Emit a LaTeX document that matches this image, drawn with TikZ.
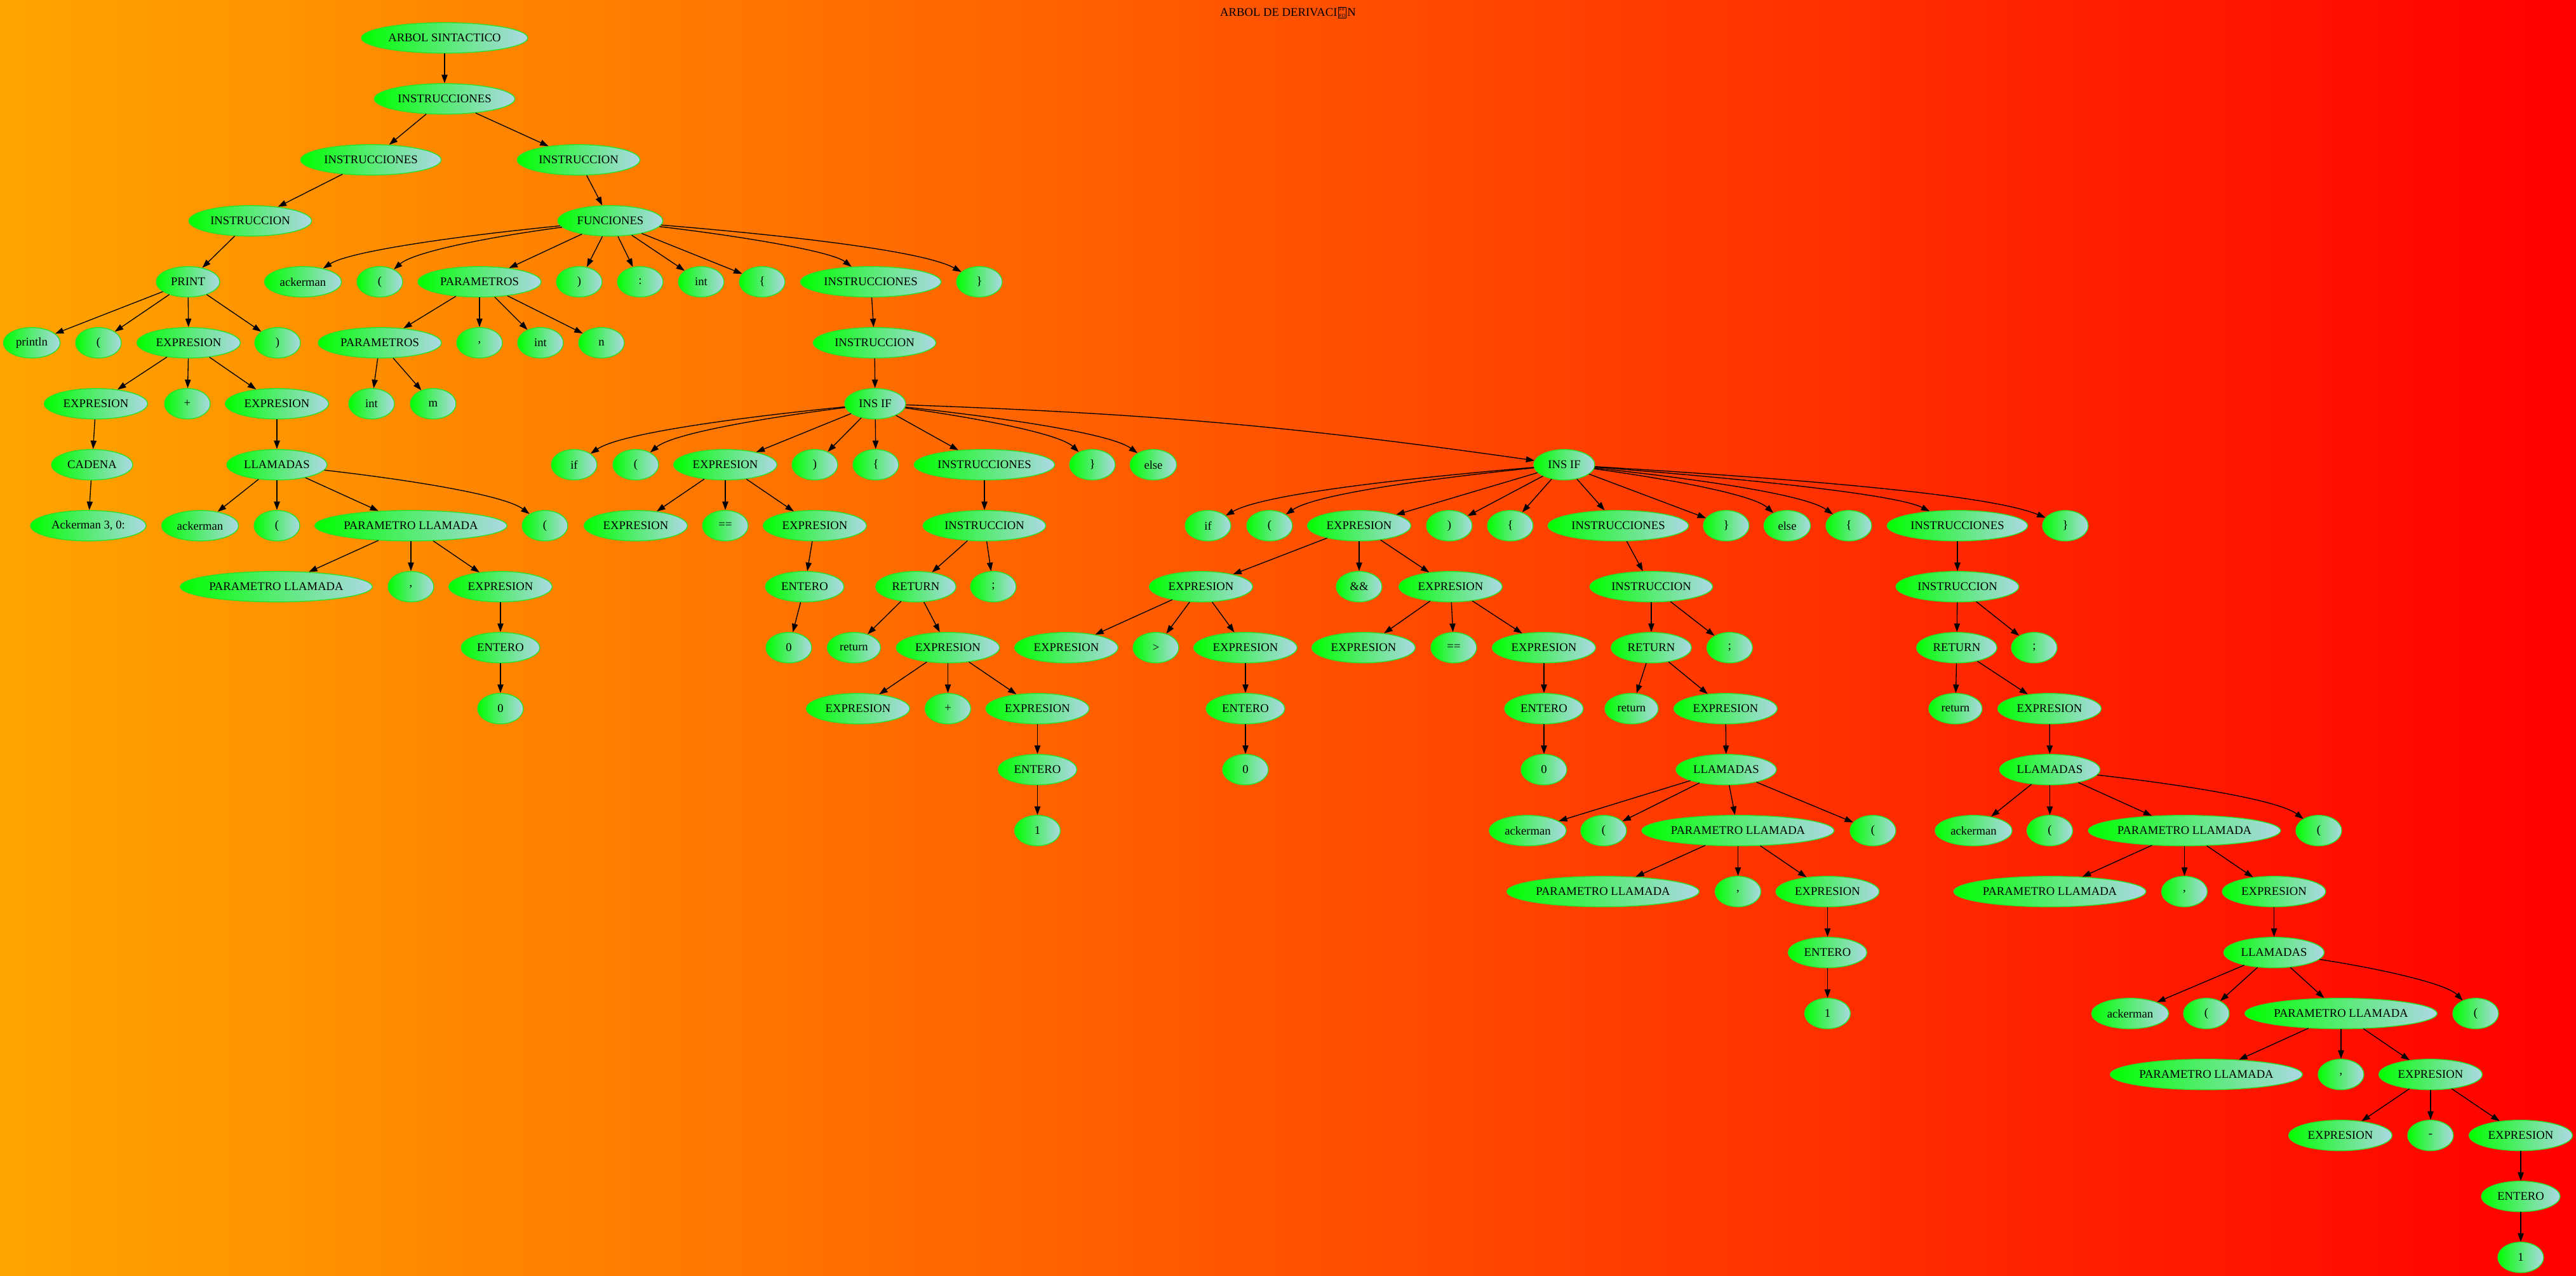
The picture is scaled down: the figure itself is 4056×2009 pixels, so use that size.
\documentclass[tikz,border=0pt]{standalone}
\usepackage{fontspec}
\setmainfont{Liberation Serif}
\usetikzlibrary{shapes.geometric,arrows.meta,calc}
\definecolor{gvgreen}{RGB}{0,255,0}
\definecolor{gvblue}{RGB}{173,216,230}
\definecolor{gvborder}{RGB}{40,225,40}
\definecolor{bgl}{RGB}{255,165,0}
\definecolor{bgr}{RGB}{255,0,0}
\newcommand\fffdbox{\kern0.8pt{\setlength\fboxsep{0.7pt}\setlength\fboxrule{0.6pt}\raisebox{-0.8pt}{\fbox{\fontsize{5.6}{7.6}\selectfont\sffamily\shortstack{FF\\FD}}}}\kern0.8pt}
\tikzset{
 gn/.style={ellipse, draw=gvborder, line width=1pt, left color=gvgreen, right color=gvblue, minimum height=36pt, inner sep=0pt, font=\fontsize{14}{16}\selectfont},
 nsm/.style={gn, minimum width=54pt},
 nexp/.style={gn, minimum width=122pt},
 ninss/.style={gn, minimum width=166pt},
 nins/.style={gn, minimum width=145pt},
 npll/.style={gn, minimum width=227pt},
 npars/.style={gn, minimum width=145.5pt},
 nllam/.style={gn, minimum width=118.5pt},
 nent/.style={gn, minimum width=93pt},
 nret/.style={gn, minimum width=95pt},
 nretl/.style={gn, minimum width=63pt},
 nelse/.style={gn, minimum width=55pt},
 nack/.style={gn, minimum width=91pt},
 nprl/.style={gn, minimum width=67pt},
 nprt/.style={gn, minimum width=75pt},
 nfun/.style={gn, minimum width=124pt},
 ncad/.style={gn, minimum width=96pt},
 nackt/.style={gn, minimum width=136.5pt},
 narb/.style={gn, minimum width=196.5pt},
 nif/.style={gn, minimum width=72pt},
 conn/.style={draw=black, line width=1pt, -{Triangle[length=10pt,width=7pt]}},
}
\newcommand\sedge[2]{\draw[conn] (#1) -- (#2);}
\newcommand\cedge[2]{\draw[conn] let \p1=(#1.center), \p2=(#2.center) in (#1) .. controls ({\x1+0.5*(\x2-\x1)},{\y1+0.25*(\y2-\y1)}) and ({\x2-0.15*(\x2-\x1)},{\y2+0.5*(\y1-\y2)}) .. (#2);}
\begin{document}
\begin{tikzpicture}[x=0.75pt,y=-0.75pt]
\shade[left color=bgl, right color=bgr] (0,0) rectangle (4056,2009);
\useasboundingbox (0,0) rectangle (4056,2009);
\node[font=\fontsize{14}{16}\selectfont, inner sep=0pt, anchor=base] (title) at (2028,26) {ARBOL DE DERIVACI\fffdbox N};
% row 0-3
\node[narb] (a0) at (700,59.7) {ARBOL SINTACTICO};
\node[ninss] (a1) at (700,155.7) {INSTRUCCIONES};
\node[ninss] (a2) at (584,251.7) {INSTRUCCIONES};
\node[nins] (b2) at (911,251.7) {INSTRUCCION};
\node[nins] (a3) at (394,347.7) {INSTRUCCION};
\node[nfun] (f3) at (961,347.7) {FUNCIONES};
% row 4
\node[nprt] (pr) at (296,443.7) {PRINT};
\node[nack] (fk) at (477,443.7) {ackerman};
\node[nsm] (fl) at (598,443.7) {(};
\node[npars] (fp) at (755,443.7) {PARAMETROS};
\node[nsm] (fr) at (912,443.7) {)};
\node[nsm] (fc) at (1008,443.7) {:};
\node[nsm] (fi) at (1104,443.7) {int};
\node[nsm] (fo) at (1200,443.7) {\{};
\node[ninss] (fs) at (1371,443.7) {INSTRUCCIONES};
\node[nsm] (fe) at (1542,443.7) {\}};
% row 5
\node[nprl] (p1) at (50,539.7) {println};
\node[nsm] (p2) at (155,539.7) {(};
\node[nexp] (p3) at (297,539.7) {EXPRESION};
\node[nsm] (p4) at (437,539.7) {)};
\node[npars] (q1) at (598,539.7) {PARAMETROS};
\node[nsm] (q2) at (755,539.7) {,};
\node[nsm] (q3) at (851,539.7) {int};
\node[nsm] (q4) at (947,539.7) {n};
\node[nins] (fs1) at (1377,539.7) {INSTRUCCION};
% row 6
\node[nexp] (e1) at (151,635.7) {EXPRESION};
\node[nsm] (e2) at (295,635.7) {+};
\node[nexp] (e3) at (436,635.7) {EXPRESION};
\node[nsm] (q5) at (585,635.7) {int};
\node[nsm] (q6) at (682,635.7) {m};
\node[nif] (i1) at (1378,635.7) {INS IF};
% row 7
\node[ncad] (c1) at (145,731.7) {CADENA};
\node[nllam] (l1) at (436,731.7) {LLAMADAS};
\node[nsm] (i1a) at (904,731.7) {if};
\node[nsm] (i1b) at (1001,731.7) {(};
\node[nexp] (i1c) at (1142,731.7) {EXPRESION};
\node[nsm] (i1d) at (1283,731.7) {)};
\node[nsm] (i1e) at (1379,731.7) {\{};
\node[ninss] (i1f) at (1550,731.7) {INSTRUCCIONES};
\node[nsm] (i1g) at (1720,731.7) {\}};
\node[nelse] (i1h) at (1816,731.7) {else};
\node[nif] (i2) at (2463,731.7) {INS IF};
% row 8
\node[nackt] (c2) at (139,827.7) {Ackerman 3, 0:};
\node[nack] (l1a) at (315,827.7) {ackerman};
\node[nsm] (l1b) at (436,827.7) {(};
\node[npll] (l1c) at (647,827.7) {PARAMETRO LLAMADA};
\node[nsm] (l1d) at (858,827.7) {(};
\node[nexp] (x1) at (1001,827.7) {EXPRESION};
\node[nsm] (x2) at (1142,827.7) {==};
\node[nexp] (x3) at (1283,827.7) {EXPRESION};
\node[nins] (j1) at (1550,827.7) {INSTRUCCION};
\node[nsm] (i2a) at (1902,827.7) {if};
\node[nsm] (i2b) at (1999,827.7) {(};
\node[nexp] (i2c) at (2140,827.7) {EXPRESION};
\node[nsm] (i2d) at (2282,827.7) {)};
\node[nsm] (i2e) at (2378,827.7) {\{};
\node[ninss] (i2f) at (2548,827.7) {INSTRUCCIONES};
\node[nsm] (i2g) at (2718,827.7) {\}};
\node[nelse] (i2h) at (2814,827.7) {else};
\node[nsm] (i2i) at (2911,827.7) {\{};
\node[ninss] (i2j) at (3082,827.7) {INSTRUCCIONES};
\node[nsm] (i2k) at (3252,827.7) {\}};
% row 9
\node[npll] (m1) at (435,923.7) {PARAMETRO LLAMADA};
\node[nsm] (m2) at (647,923.7) {,};
\node[nexp] (m3) at (788,923.7) {EXPRESION};
\node[nent] (x4) at (1267,923.7) {ENTERO};
\node[nret] (j2) at (1442,923.7) {RETURN};
\node[nsm] (j3) at (1564,923.7) {;};
\node[nexp] (y1) at (1891,923.7) {EXPRESION};
\node[nsm] (y2) at (2140,923.7) {\&\&};
\node[nexp] (y3) at (2284,923.7) {EXPRESION};
\node[nins] (k1) at (2600,923.7) {INSTRUCCION};
\node[nins] (g1) at (3082,923.7) {INSTRUCCION};
% row 10
\node[nent] (m4) at (788,1019.7) {ENTERO};
\node[nsm] (x5) at (1242,1019.7) {0};
\node[nretl] (j4) at (1344.5,1019.7) {return};
\node[nexp] (j5) at (1492.5,1019.7) {EXPRESION};
\node[nexp] (y4) at (1679,1019.7) {EXPRESION};
\node[nsm] (y5) at (1820,1019.7) {>};
\node[nexp] (y6) at (1961,1019.7) {EXPRESION};
\node[nexp] (y7) at (2147,1019.7) {EXPRESION};
\node[nsm] (y8) at (2289,1019.7) {==};
\node[nexp] (y9) at (2431,1019.7) {EXPRESION};
\node[nret] (k2) at (2600,1019.7) {RETURN};
\node[nsm] (k3) at (2723.5,1019.7) {;};
\node[nret] (g2) at (3081,1019.7) {RETURN};
\node[nsm] (g3) at (3203,1019.7) {;};
% row 11
\node[nsm] (m5) at (788,1115.7) {0};
\node[nexp] (j6) at (1351,1115.7) {EXPRESION};
\node[nsm] (j7) at (1492.5,1115.7) {+};
\node[nexp] (j8) at (1633.5,1115.7) {EXPRESION};
\node[nent] (y10) at (1961,1115.7) {ENTERO};
\node[nent] (y11) at (2431,1115.7) {ENTERO};
\node[nretl] (k4) at (2569,1115.7) {return};
\node[nexp] (k5) at (2717,1115.7) {EXPRESION};
\node[nretl] (g4) at (3079,1115.7) {return};
\node[nexp] (g5) at (3227,1115.7) {EXPRESION};
% row 12
\node[nent] (j9) at (1633.5,1211.7) {ENTERO};
\node[nsm] (y12) at (1961,1211.7) {0};
\node[nsm] (y13) at (2431,1211.7) {0};
\node[nllam] (k6) at (2718,1211.7) {LLAMADAS};
\node[nllam] (g6) at (3227.5,1211.7) {LLAMADAS};
% row 13
\node[nsm] (j10) at (1633.5,1307.7) {1};
\node[nack] (k7) at (2405.5,1307.7) {ackerman};
\node[nsm] (k8) at (2525,1307.7) {(};
\node[npll] (k9) at (2736.5,1307.7) {PARAMETRO LLAMADA};
\node[nsm] (k10) at (2949,1307.7) {(};
\node[nack] (g7) at (3107.5,1307.7) {ackerman};
\node[nsm] (g8) at (3227.5,1307.7) {(};
\node[npll] (g9) at (3439.5,1307.7) {PARAMETRO LLAMADA};
\node[nsm] (g10) at (3651,1307.7) {(};
% row 14
\node[npll] (k11) at (2524,1403.7) {PARAMETRO LLAMADA};
\node[nsm] (k12) at (2736.5,1403.7) {,};
\node[nexp] (k13) at (2877.5,1403.7) {EXPRESION};
\node[npll] (g11) at (3227.5,1403.7) {PARAMETRO LLAMADA};
\node[nsm] (g12) at (3439.5,1403.7) {,};
\node[nexp] (g13) at (3580.5,1403.7) {EXPRESION};
% row 15
\node[nent] (k14) at (2877.5,1499.7) {ENTERO};
\node[nllam] (g14) at (3580.5,1499.7) {LLAMADAS};
% row 16
\node[nsm] (k15) at (2877.5,1595.7) {1};
\node[nack] (g15) at (3354,1595.7) {ackerman};
\node[nsm] (g16) at (3474,1595.7) {(};
\node[npll] (g17) at (3686,1595.7) {PARAMETRO LLAMADA};
\node[nsm] (g18) at (3898,1595.7) {(};
% row 17
\node[npll] (g19) at (3474,1691.7) {PARAMETRO LLAMADA};
\node[nsm] (g20) at (3686,1691.7) {,};
\node[nexp] (g21) at (3827,1691.7) {EXPRESION};
% row 18
\node[nexp] (g22) at (3685,1787.7) {EXPRESION};
\node[nsm] (g23) at (3827,1787.7) {-};
\node[nexp] (g24) at (3969,1787.7) {EXPRESION};
% row 19-20
\node[nent] (g25) at (3969,1883.7) {ENTERO};
\node[nsm] (g26) at (3969,1979.7) {1};
% edges
\sedge{a0}{a1}\sedge{a1}{a2}\sedge{a1}{b2}\sedge{a2}{a3}\sedge{b2}{f3}\sedge{a3}{pr}
\sedge{pr}{p1}\sedge{pr}{p2}\sedge{pr}{p3}\sedge{pr}{p4}
\sedge{p3}{e1}\sedge{p3}{e2}\sedge{p3}{e3}
\sedge{e1}{c1}\sedge{c1}{c2}\sedge{e3}{l1}
\sedge{l1}{l1a}\sedge{l1}{l1b}\sedge{l1}{l1c}\cedge{l1}{l1d}
\sedge{l1c}{m1}\sedge{l1c}{m2}\sedge{l1c}{m3}\sedge{m3}{m4}\sedge{m4}{m5}
\cedge{f3}{fk}\cedge{f3}{fl}\sedge{f3}{fp}\sedge{f3}{fr}\sedge{f3}{fc}\sedge{f3}{fi}\sedge{f3}{fo}\cedge{f3}{fs}\cedge{f3}{fe}
\sedge{fp}{q1}\sedge{fp}{q2}\sedge{fp}{q3}\sedge{fp}{q4}\sedge{q1}{q5}\sedge{q1}{q6}
\sedge{fs}{fs1}\sedge{fs1}{i1}
\cedge{i1}{i1a}\cedge{i1}{i1b}\sedge{i1}{i1c}\sedge{i1}{i1d}\sedge{i1}{i1e}\sedge{i1}{i1f}\cedge{i1}{i1g}\cedge{i1}{i1h}
\draw[conn] (i1) to[bend left=3] (i2);
\sedge{i1c}{x1}\sedge{i1c}{x2}\sedge{i1c}{x3}\sedge{x3}{x4}\sedge{x4}{x5}
\sedge{i1f}{j1}\sedge{j1}{j2}\sedge{j1}{j3}\sedge{j2}{j4}\sedge{j2}{j5}
\sedge{j5}{j6}\sedge{j5}{j7}\sedge{j5}{j8}\sedge{j8}{j9}\sedge{j9}{j10}
\cedge{i2}{i2a}\cedge{i2}{i2b}\sedge{i2}{i2c}\sedge{i2}{i2d}\sedge{i2}{i2e}\sedge{i2}{i2f}\sedge{i2}{i2g}\cedge{i2}{i2h}\cedge{i2}{i2i}\cedge{i2}{i2j}\cedge{i2}{i2k}
\sedge{i2c}{y1}\sedge{i2c}{y2}\sedge{i2c}{y3}
\sedge{y1}{y4}\sedge{y1}{y5}\sedge{y1}{y6}\sedge{y6}{y10}\sedge{y10}{y12}
\sedge{y3}{y7}\sedge{y3}{y8}\sedge{y3}{y9}\sedge{y9}{y11}\sedge{y11}{y13}
\sedge{i2f}{k1}\sedge{k1}{k2}\sedge{k1}{k3}\sedge{k2}{k4}\sedge{k2}{k5}\sedge{k5}{k6}
\sedge{k6}{k7}\sedge{k6}{k8}\sedge{k6}{k9}\sedge{k6}{k10}
\sedge{k9}{k11}\sedge{k9}{k12}\sedge{k9}{k13}\sedge{k13}{k14}\sedge{k14}{k15}
\sedge{i2j}{g1}\sedge{g1}{g2}\sedge{g1}{g3}\sedge{g2}{g4}\sedge{g2}{g5}\sedge{g5}{g6}
\sedge{g6}{g7}\sedge{g6}{g8}\sedge{g6}{g9}\cedge{g6}{g10}
\sedge{g9}{g11}\sedge{g9}{g12}\sedge{g9}{g13}\sedge{g13}{g14}
\sedge{g14}{g15}\sedge{g14}{g16}\sedge{g14}{g17}\cedge{g14}{g18}
\sedge{g17}{g19}\sedge{g17}{g20}\sedge{g17}{g21}
\sedge{g21}{g22}\sedge{g21}{g23}\sedge{g21}{g24}\sedge{g24}{g25}\sedge{g25}{g26}
\end{tikzpicture}
\end{document}
